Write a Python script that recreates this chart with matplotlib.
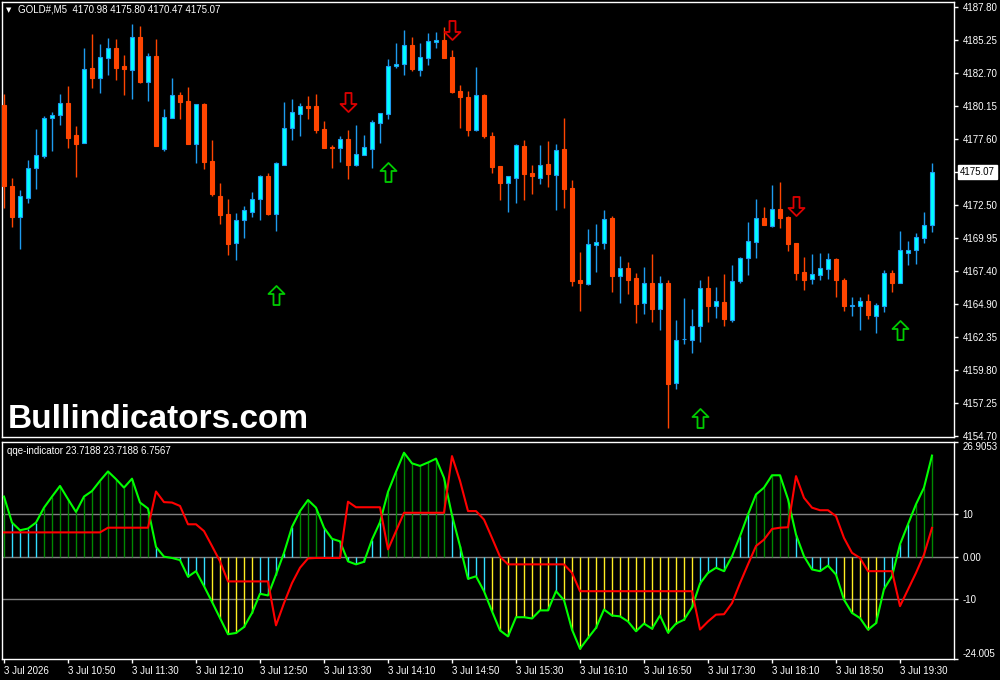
import matplotlib
matplotlib.use('Agg')
import matplotlib.pyplot as plt
from matplotlib.path import Path
import matplotlib.transforms as mtransforms
import numpy as np

plt.rcParams['font.family'] = ['Liberation Sans', 'DejaVu Sans']

# ---- data: GOLD#, M5, 3 Jul 2026 10:10 .. 19:50 ----
opens = [4180.25, 4173.99, 4171.62, 4173.09, 4175.40, 4176.31, 4179.27, 4179.50, 4180.40, 4177.93,
         4177.34, 4183.11, 4182.36, 4183.91, 4184.65, 4183.26, 4182.95, 4185.50, 4182.03, 4184.04,
         4176.87, 4179.27, 4181.02, 4180.56, 4177.26, 4180.33, 4175.92, 4173.22, 4171.83, 4169.61,
         4171.39, 4172.00, 4173.01, 4174.76, 4171.85, 4175.64, 4178.50, 4179.58, 4180.20, 4180.17,
         4178.40, 4177.00, 4176.95, 4177.62, 4175.64, 4176.41, 4176.87, 4178.88, 4179.58, 4183.26,
         4183.44, 4184.89, 4182.98, 4183.91, 4185.14, 4185.27, 4183.96, 4181.33, 4180.87, 4178.34,
         4181.02, 4177.85, 4175.54, 4174.25, 4174.63, 4177.08, 4175.00, 4174.63, 4175.69, 4174.86,
         4176.85, 4173.86, 4166.73, 4166.44, 4169.45, 4169.61, 4171.52, 4167.06, 4167.65, 4166.88,
         4164.97, 4166.49, 4164.51, 4166.52, 4158.79, 4162.14, 4162.11, 4163.19, 4166.11, 4164.74,
         4165.05, 4163.66, 4166.67, 4168.45, 4169.69, 4171.54, 4170.92, 4172.24, 4171.62, 4169.59,
         4167.37, 4166.83, 4167.14, 4167.60, 4168.37, 4166.73, 4164.74, 4164.74, 4165.13, 4163.97,
         4164.74, 4167.29, 4166.52, 4168.84, 4169.04, 4170.00, 4170.98]
highs = [4181.10, 4174.61, 4173.68, 4176.00, 4178.40, 4179.40, 4179.71, 4181.10, 4181.72, 4178.63,
         4184.65, 4185.74, 4184.96, 4185.43, 4185.35, 4184.11, 4186.51, 4186.36, 4184.27, 4185.35,
         4179.94, 4182.34, 4181.25, 4181.64, 4180.33, 4180.40, 4177.55, 4174.22, 4172.99, 4171.90,
         4172.44, 4173.53, 4174.84, 4175.00, 4175.85, 4180.48, 4180.71, 4180.40, 4180.95, 4181.10,
         4179.01, 4177.16, 4177.85, 4178.32, 4178.70, 4177.93, 4179.09, 4179.63, 4183.80, 4185.04,
         4186.05, 4185.50, 4185.04, 4185.81, 4185.89, 4186.28, 4184.50, 4181.80, 4181.33, 4183.19,
         4181.10, 4178.16, 4175.54, 4174.76, 4177.24, 4177.55, 4175.61, 4177.16, 4177.47, 4177.24,
         4179.25, 4174.48, 4168.91, 4170.69, 4171.08, 4172.16, 4171.70, 4168.60, 4168.14, 4167.29,
         4167.75, 4168.76, 4167.06, 4166.73, 4163.66, 4165.36, 4164.51, 4166.75, 4167.06, 4166.21,
         4167.21, 4167.91, 4168.53, 4171.23, 4173.01, 4172.39, 4174.09, 4174.32, 4171.70, 4169.61,
         4168.53, 4168.76, 4168.84, 4168.84, 4168.45, 4166.90, 4165.44, 4165.44, 4165.67, 4164.97,
         4167.52, 4167.52, 4170.54, 4169.76, 4170.38, 4172.00, 4175.80]
lows = [4172.31, 4170.82, 4169.12, 4172.70, 4173.78, 4176.18, 4176.69, 4178.70, 4176.93, 4174.69,
        4177.34, 4181.56, 4181.18, 4182.57, 4182.18, 4181.02, 4180.71, 4181.95, 4180.56, 4177.08,
        4176.69, 4179.27, 4179.17, 4177.26, 4175.79, 4175.33, 4173.24, 4171.08, 4168.68, 4168.29,
        4169.99, 4171.62, 4171.39, 4171.77, 4170.54, 4175.64, 4177.57, 4177.88, 4179.19, 4178.11,
        4176.95, 4175.40, 4175.87, 4174.55, 4175.56, 4176.41, 4175.40, 4177.34, 4179.19, 4183.13,
        4182.59, 4182.90, 4182.51, 4183.36, 4184.68, 4183.91, 4181.20, 4178.50, 4177.88, 4178.26,
        4177.72, 4175.02, 4172.93, 4172.00, 4172.70, 4172.93, 4173.40, 4174.17, 4173.94, 4172.16,
        4172.31, 4166.29, 4164.35, 4166.36, 4167.37, 4169.14, 4165.82, 4164.97, 4165.67, 4163.43,
        4164.12, 4163.50, 4162.89, 4155.31, 4158.33, 4161.80, 4161.11, 4161.96, 4163.50, 4163.81,
        4163.19, 4163.50, 4166.52, 4167.14, 4168.45, 4171.00, 4170.85, 4170.77, 4168.99, 4166.75,
        4165.98, 4166.44, 4166.75, 4166.83, 4165.44, 4164.35, 4163.97, 4162.89, 4163.74, 4162.65,
        4164.28, 4165.82, 4166.52, 4167.91, 4167.99, 4169.61, 4170.47]
closes = [4174.01, 4171.62, 4173.22, 4175.38, 4176.39, 4179.25, 4179.48, 4180.40, 4177.70, 4177.24,
          4183.03, 4182.34, 4183.96, 4184.65, 4183.13, 4183.06, 4185.50, 4182.03, 4184.04, 4177.08,
          4179.32, 4181.02, 4180.48, 4177.26, 4180.33, 4175.87, 4173.37, 4171.77, 4169.53, 4171.36,
          4172.14, 4172.99, 4174.76, 4171.83, 4175.77, 4178.47, 4179.71, 4180.17, 4180.04, 4178.32,
          4176.95, 4176.95, 4177.62, 4175.64, 4176.46, 4177.00, 4178.94, 4179.63, 4183.26, 4183.42,
          4184.89, 4183.06, 4183.96, 4185.20, 4185.30, 4183.91, 4181.25, 4180.89, 4178.34, 4181.02,
          4177.88, 4175.48, 4174.25, 4174.76, 4177.16, 4174.94, 4174.79, 4175.61, 4174.94, 4176.77,
          4173.78, 4166.67, 4166.52, 4169.51, 4169.66, 4171.44, 4167.06, 4167.65, 4166.75, 4164.89,
          4166.49, 4164.51, 4166.49, 4158.71, 4162.09, 4162.19, 4163.17, 4166.11, 4164.74, 4165.13,
          4163.74, 4166.67, 4168.45, 4169.76, 4171.54, 4171.00, 4172.24, 4171.54, 4169.53, 4167.29,
          4166.75, 4167.19, 4167.63, 4168.35, 4166.75, 4164.74, 4164.82, 4165.13, 4164.04, 4164.82,
          4167.29, 4166.52, 4169.04, 4169.07, 4170.07, 4171.00, 4175.07]

# signal arrows (candle index, arrow centre price)
buy_idx = [34, 48, 87, 112]
buy_price = [4165.57, 4175.11, 4156.10, 4162.86]
sell_idx = [43, 56, 99]
sell_price = [4180.52, 4186.05, 4172.48]

# qqe indicator
qqe_fast = [14.1, 8.0, 6.2, 6.6, 8.0, 11.5, 14.1, 16.6, 13.5, 10.5,
            14.1, 15.4, 17.8, 20.0, 18.2, 16.2, 18.3, 12.7, 11.3, 2.3,
            0.0, -0.3, -0.8, -4.7, -3.4, -6.9, -10.6, -14.4, -18.2, -17.9,
            -16.5, -13.2, -8.7, -9.1, -4.2, 0.9, 7.0, 10.7, 13.3, 11.5,
            6.8, 4.2, 3.6, -1.1, -1.8, -1.2, 4.0, 8.1, 15.2, 19.9,
            24.4, 21.9, 21.3, 22.1, 23.0, 18.5, 9.7, 2.5, -5.2, -4.6,
            -8.1, -12.8, -17.3, -18.7, -14.2, -14.2, -14.5, -12.6, -12.6, -8.1,
            -10.2, -17.1, -21.6, -19.1, -16.7, -12.4, -13.8, -14.0, -15.2, -17.5,
            -15.7, -16.9, -13.8, -17.8, -15.7, -14.8, -11.9, -6.3, -3.8, -2.6,
            -3.4, 0.1, 4.8, 9.9, 14.6, 16.2, 19.1, 19.1, 13.5, 5.2,
            0.1, -3.0, -3.4, -2.1, -4.2, -10.1, -13.2, -14.4, -17.1, -15.6,
            -7.6, -4.6, 2.9, 7.6, 12.3, 16.2, 23.7188]
qqe_slow = [5.7, 5.7, 5.7, 5.7, 5.7, 5.7, 5.7, 5.7, 5.7, 5.7,
            5.7, 5.7, 5.7, 6.8, 6.8, 6.8, 6.8, 6.8, 6.8, 15.3,
            12.8, 12.7, 11.9, 7.6, 7.6, 6.0, 2.5, -1.1, -5.8, -5.8,
            -5.8, -5.8, -5.8, -5.8, -16.1, -10.9, -6.2, -2.6, -0.4, -0.3,
            -0.3, -0.3, -0.3, 12.9, 11.6, 11.6, 11.6, 11.6, 1.7, 6.0,
            10.3, 10.3, 10.3, 10.3, 10.3, 10.3, 23.6, 17.8, 10.7, 10.7,
            8.7, 4.4, 0.0, -1.8, -1.8, -1.8, -1.8, -1.8, -1.8, -1.8,
            -1.8, -3.8, -8.1, -8.1, -8.1, -8.1, -8.1, -8.1, -8.1, -8.1,
            -8.1, -8.1, -8.1, -8.1, -8.1, -8.1, -8.1, -17.1, -15.2, -13.6,
            -13.5, -10.9, -6.2, -1.8, 2.5, 4.0, 6.5, 6.8, 6.9, 18.9,
            13.8, 11.5, 10.9, 10.9, 9.5, 4.4, 0.9, -0.3, -3.4, -3.4,
            -3.4, -3.4, -11.6, -7.7, -3.8, 0.5, 6.7567]

price_ticks = [4187.80, 4185.25, 4182.70, 4180.15, 4177.60, 4175.05, 4172.50, 4169.95,
               4167.40, 4164.90, 4162.35, 4159.80, 4157.25, 4154.70]
price_labels = ['4187.80', '4185.25', '4182.70', '4180.15', '4177.60', '', '4172.50', '4169.95',
                '4167.40', '4164.90', '4162.35', '4159.80', '4157.25', '4154.70']
qqe_ticks = [26.9053, 10, 0, -10, -24.005]
qqe_labels = ['26.9053', '10', '0.00', '-10', '-24.005']
time_labels = ['3 Jul 2026', '3 Jul 10:50', '3 Jul 11:30', '3 Jul 12:10', '3 Jul 12:50',
               '3 Jul 13:30', '3 Jul 14:10', '3 Jul 14:50', '3 Jul 15:30', '3 Jul 16:10',
               '3 Jul 16:50', '3 Jul 17:30', '3 Jul 18:10', '3 Jul 18:50', '3 Jul 19:30']

BULL = '#00FFFF'
BULL_EDGE = '#1E9BEF'
BEAR = '#FF4500'

x = np.arange(len(opens))
o = np.array(opens)
c = np.array(closes)
bull = c >= o

fig = plt.figure(figsize=(10, 6.8), dpi=100, facecolor='black')
ax = fig.add_axes([0.002, 1 - 437 / 680, 0.952, 435 / 680])
ax2 = fig.add_axes([0.002, 1 - 659 / 680, 0.952, 217 / 680])

for a in (ax, ax2):
    a.set_facecolor('black')
    for s in a.spines.values():
        s.set_color('white')
        s.set_linewidth(1)
    a.set_xlim(-0.25, 118.75)
    a.yaxis.tick_right()
    a.tick_params(axis='y', colors='white', labelsize=7, length=3, pad=3, width=1)

# candles
wick_cols = [BULL_EDGE if b else BEAR for b in bull]
ax.vlines(x, lows, highs, colors=wick_cols, linewidth=1, zorder=2)
body_h = np.maximum(np.abs(c - o), 0.04)
ax.bar(x[bull], body_h[bull], bottom=np.minimum(o, c)[bull], width=0.6,
       color=BULL, edgecolor=BULL_EDGE, linewidth=0.8, zorder=3)
ax.bar(x[~bull], body_h[~bull], bottom=np.minimum(o, c)[~bull], width=0.6,
       color=BEAR, edgecolor=BEAR, linewidth=0.8, zorder=3)

# arrows
up_path = Path([(0, 9.5), (8, 1.5), (3, 1.5), (3, -9.5), (-3, -9.5), (-3, 1.5), (-8, 1.5), (0, 9.5)],
               closed=True)
down_path = Path([(0, -9.5), (8, -1.5), (3, -1.5), (3, 9.5), (-3, 9.5), (-3, -1.5), (-8, -1.5), (0, -9.5)],
                 closed=True)
ax.plot(buy_idx, buy_price, linestyle='none', marker=up_path, markersize=13.7,
        markerfacecolor='none', markeredgecolor='#00CC00', markeredgewidth=1.3, zorder=4)
ax.plot(sell_idx, sell_price, linestyle='none', marker=down_path, markersize=13.7,
        markerfacecolor='none', markeredgecolor='#DD0000', markeredgewidth=1.3, zorder=4)

ax.set_ylim(4154.60, 4188.21)
ax.set_yticks(price_ticks)
ax.set_yticklabels(price_labels)
ax.set_xticks([])

# current price box
trans = mtransforms.blended_transform_factory(ax.transAxes, ax.transData)
ax.text(1.0 + 6 / 952, closes[-1], '%.2f' % closes[-1], transform=trans, ha='left', va='center',
        fontsize=7, color='black', bbox=dict(facecolor='white', edgecolor='white', pad=1.2))

# indicator panel
hist_cols = ['#008800' if v > 10 else ('#FFEE22' if v < -10 else '#33DDFF') for v in qqe_fast]
for lvl in (10, 0, -10):
    ax2.axhline(lvl, color='#808080', linewidth=1, zorder=1)
ax2.vlines(x, 0, qqe_fast, colors=hist_cols, linewidth=1, zorder=2)
ax2.plot(x, qqe_fast, color='#00FF00', linewidth=1.5, zorder=3)
ax2.plot(x, qqe_slow, color='#FF0000', linewidth=1.5, zorder=3)
ax2.set_ylim(-24.005, 26.9053)
ax2.set_yticks(qqe_ticks)
ax2.set_yticklabels(qqe_labels)
yt = ax2.yaxis.get_major_ticks()
yt[0].label2.set_va('top')
yt[-1].label2.set_va('bottom')

ax2.set_xticks(range(0, len(opens), 8))
ax2.set_xticklabels(time_labels)
ax2.tick_params(axis='x', colors='white', labelsize=7, length=3, pad=2, width=1)
for lab in ax2.get_xticklabels():
    lab.set_ha('left')

# texts
fig.text(0.006, 1 - 10 / 680, '\u25BC', color='white', fontsize=5, va='center', family='DejaVu Sans')
fig.text(0.018, 1 - 10 / 680, 'GOLD#,M5  %.2f %.2f %.2f %.2f' % (opens[-1], highs[-1], lows[-1], closes[-1]),
         color='white', fontsize=7, va='center')
fig.text(0.007, 1 - 451 / 680, 'qqe-indicator %.4f %.4f %.4f' % (qqe_fast[-1], qqe_fast[-1], qqe_slow[-1]),
         color='white', fontsize=7, va='center')
fig.text(0.008, 1 - 428 / 680, 'Bullindicators.com', color='white', fontsize=24,
         fontweight='bold', va='baseline')

fig.savefig('out.png', dpi=100, facecolor='black')
